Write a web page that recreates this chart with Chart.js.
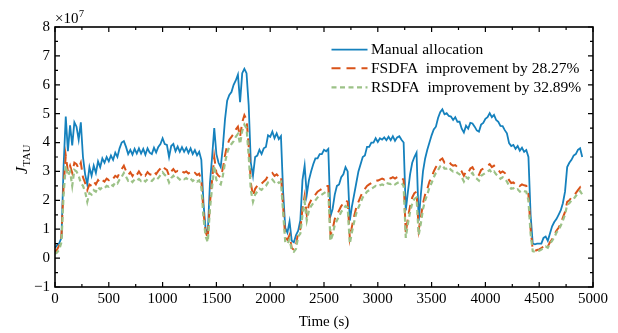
<!DOCTYPE html>
<html lang="en">
<head>
  <meta charset="UTF-8">
  <title>J_TAU over time</title>
  <script src="https://cdn.jsdelivr.net/npm/chart.js"></script>
  <style>
    body {
      margin: 0;
      padding: 0;
      background-color: #fff;
    }

    #graphContainer {
      position: relative;
      width: 618px;
      height: 333px;
    }
  </style>
</head>
<body>
  <div id="graphContainer">
    <canvas id="tauGraph"></canvas>
  </div>

  <script>
    // sampled every 20 s, 0 .. 4900 s, values in units of 1e7
    const STEP = 20;

    const manual = [
      0.35, 0.45, 0.52, 0.7, 3.2, 4.9, 3.7, 4.6, 3.9, 4.7,
      4.55, 4.1, 4.7, 3.5, 2.9, 2.55, 3.15, 2.85, 3.2, 2.95,
      3.35, 3.15, 3.45, 3.3, 3.5, 3.35, 3.55, 3.4, 3.65, 3.5,
      3.8, 4.0, 4.05, 3.85, 3.6, 3.75, 3.58, 3.78, 3.62, 3.8,
      3.62, 3.78, 3.58, 3.8, 3.65, 3.6, 3.82, 3.66, 3.85, 3.95,
      4.15, 3.95, 3.92, 3.5, 3.88, 3.95, 3.7, 3.86, 3.68, 3.84,
      3.68, 3.82, 3.64, 3.8, 3.6, 3.74, 3.56, 3.68, 3.4, 1.9,
      1.0, 0.88, 2.6, 3.5, 4.5, 3.6, 3.3, 3.15, 3.85, 4.8,
      5.45, 5.65, 5.75, 6.0, 6.15, 6.35, 5.4, 6.4, 6.55, 6.4,
      5.3, 3.3, 2.85, 3.5, 3.55, 3.75, 3.6, 3.8, 3.85, 4.25,
      4.2, 4.38, 4.15, 4.32, 4.12, 4.22, 2.3, 1.05, 0.88, 1.27,
      0.6, 0.55, 0.8, 0.95, 1.3, 2.7, 3.2, 2.2, 2.7, 3.0,
      3.25, 3.45, 3.45, 3.6, 3.6, 3.75, 3.7, 3.78, 1.45, 1.7,
      2.2, 2.5, 2.55, 2.8, 2.9, 3.15, 3.0, 1.3, 1.8, 2.2,
      2.6, 3.0, 3.25, 3.5, 3.55, 3.85, 3.85, 4.0, 4.0, 4.15,
      4.02, 4.15, 4.1, 4.18, 4.08, 4.2, 4.08, 4.22, 4.06, 4.18,
      4.22, 4.1, 4.0, 1.65, 2.3, 2.9, 3.3, 3.5, 3.65, 1.3,
      2.2, 3.0, 3.45, 3.75, 4.0, 4.25, 4.45, 4.55, 4.85, 5.05,
      5.15, 4.98, 5.02, 4.92, 4.9, 4.78, 4.88, 4.72, 4.72, 4.48,
      4.35, 4.58, 4.48, 4.68, 4.66, 4.55, 4.42, 4.38, 4.62, 4.68,
      4.82, 4.88, 5.02, 4.88, 4.96, 4.78, 4.72, 4.58, 4.57, 4.43,
      4.32, 3.98, 3.88, 3.92, 3.78, 3.88, 3.72, 3.82, 3.68, 3.74,
      3.5, 1.5, 0.5, 0.48, 0.5, 0.5, 0.5, 0.7, 0.75, 0.6,
      0.85, 1.1, 1.25, 1.35, 1.5, 1.65, 1.9, 2.3, 3.15, 3.3,
      3.4, 3.55, 3.6, 3.75, 3.8, 3.5
    ];

    const fsdfa = [
      0.2, 0.3, 0.45, 0.75, 2.5, 3.55, 3.0, 3.2, 2.95, 3.3,
      3.25, 3.1, 3.3, 2.8, 2.6, 2.35, 2.55, 2.5, 2.65, 2.55,
      2.7, 2.6, 2.7, 2.65, 2.75, 2.7, 2.8, 2.75, 2.85, 2.8,
      2.95, 3.08, 3.2, 3.02, 2.88, 2.97, 2.84, 2.97, 2.88, 3.0,
      2.88, 2.97, 2.86, 2.98, 2.9, 2.88, 3.0, 2.91, 3.02, 3.1,
      3.2, 3.1, 3.05, 2.85, 3.0, 3.08, 2.98, 3.02, 2.95, 3.0,
      2.96, 3.0, 2.93, 2.98, 2.9, 2.95, 2.88, 2.92, 2.7, 1.6,
      0.9, 0.7, 1.9, 2.7, 3.5, 2.95, 2.85, 2.8, 3.1, 3.55,
      3.9, 4.1, 4.2, 4.3, 4.45, 4.55, 4.2, 4.7, 4.95, 4.8,
      3.9, 2.6, 2.15, 2.4, 2.5, 2.6, 2.58, 2.65, 2.72, 2.85,
      2.88, 2.95, 2.85, 2.9, 2.82, 2.86, 1.8, 0.7, 0.63, 0.8,
      0.35, 0.29, 0.45, 0.9, 1.0, 1.7, 2.15, 1.5, 1.85, 2.0,
      2.1, 2.2, 2.3, 2.35, 2.4, 2.45, 2.5, 2.5, 0.8, 1.0,
      1.35, 1.5, 1.65, 1.8, 1.9, 2.0, 1.95, 0.69, 1.1, 1.45,
      1.75, 1.95, 2.13, 2.3, 2.4, 2.5, 2.55, 2.6, 2.65, 2.7,
      2.68, 2.72, 2.75, 2.72, 2.8, 2.78, 2.76, 2.8, 2.75, 2.8,
      2.83, 2.8, 2.7, 0.86, 1.4, 1.8, 2.1, 2.25, 2.3, 0.98,
      1.4, 1.9, 2.2, 2.4, 2.65, 2.8, 3.0, 3.15, 3.25, 3.4,
      3.45, 3.3, 3.3, 3.35, 3.25, 3.2, 3.22, 3.15, 3.1, 3.0,
      2.85, 3.0, 2.95, 3.1, 3.15, 3.0, 2.95, 2.88, 3.05, 3.1,
      3.15, 3.2, 3.25, 3.15, 3.2, 3.1, 3.05, 2.95, 3.0, 2.95,
      2.85, 2.7, 2.6, 2.62, 2.55, 2.58, 2.5, 2.55, 2.52, 2.5,
      2.2, 1.0, 0.28, 0.25, 0.28, 0.3, 0.35, 0.4, 0.45, 0.4,
      0.55, 0.65, 0.8, 0.95, 1.05, 1.2, 1.4, 1.6, 1.95, 2.0,
      2.1, 2.15, 2.25, 2.35, 2.45, 2.3
    ];

    const rsdfa = [
      0.15, 0.2, 0.3, 0.55, 2.2, 3.2, 2.85, 3.0, 2.5, 3.05,
      3.0, 2.85, 2.6, 2.5, 2.3, 1.95, 2.25, 2.2, 2.35, 2.3,
      2.45, 2.38, 2.45, 2.42, 2.5, 2.47, 2.55, 2.5, 2.62, 2.58,
      2.72, 2.82, 2.95, 2.82, 2.68, 2.72, 2.63, 2.72, 2.68, 2.74,
      2.67, 2.72, 2.65, 2.73, 2.7, 2.67, 2.75, 2.7, 2.77, 2.87,
      2.97, 2.88, 2.82, 2.62, 2.77, 2.85, 2.75, 2.79, 2.72, 2.77,
      2.73, 2.77, 2.7, 2.75, 2.67, 2.72, 2.65, 2.69, 2.45, 1.4,
      0.75, 0.55, 1.7, 2.45, 3.2, 2.7, 2.6, 2.55, 2.85, 3.3,
      3.65, 3.85, 3.95, 4.05, 4.2, 4.3, 3.95, 4.4, 4.62, 4.5,
      3.55, 2.35, 1.95, 2.2, 2.3, 2.4, 2.36, 2.45, 2.5, 2.62,
      2.66, 2.72, 2.63, 2.68, 2.6, 2.64, 1.6, 0.55, 0.5, 0.65,
      0.28, 0.22, 0.32, 0.75, 0.85, 1.5, 1.95, 1.3, 1.65, 1.8,
      1.9, 2.0, 2.1, 2.15, 2.2, 2.25, 2.3, 2.3, 0.6, 0.8,
      1.15, 1.3, 1.45, 1.6, 1.7, 1.8, 1.75, 0.5, 0.9, 1.25,
      1.55, 1.75, 1.92, 2.1, 2.2, 2.3, 2.35, 2.4, 2.45, 2.5,
      2.48, 2.52, 2.55, 2.52, 2.6, 2.58, 2.56, 2.6, 2.55, 2.6,
      2.63, 2.6, 2.5, 0.7, 1.2, 1.6, 1.9, 2.05, 2.1, 0.8,
      1.2, 1.7, 2.0, 2.2, 2.45, 2.6, 2.8, 2.95, 3.05, 3.18,
      3.22, 3.1, 3.1, 3.15, 3.05, 3.0, 3.02, 2.95, 2.9, 2.8,
      2.65, 2.8, 2.75, 2.9, 2.95, 2.8, 2.75, 2.68, 2.85, 2.9,
      2.95, 3.0, 3.05, 2.95, 3.0, 2.9, 2.85, 2.75, 2.8, 2.75,
      2.65, 2.5, 2.4, 2.42, 2.35, 2.38, 2.3, 2.35, 2.32, 2.3,
      2.0, 0.85, 0.24, 0.22, 0.24, 0.26, 0.3, 0.35, 0.4, 0.36,
      0.5, 0.6, 0.72, 0.88, 0.98, 1.12, 1.3, 1.5, 1.85, 1.9,
      2.0, 2.05, 2.15, 2.25, 2.32, 2.2
    ];

    const seriesNames = [
      'Manual allocation',
      'FSDFA  improvement by 28.27%',
      'RSDFA  improvement by 32.89%'
    ];
    const seriesColors = ['#1581bd', '#d95319', '#9cc287'];

    const xTicks = [0, 500, 1000, 1500, 2000, 2500, 3000, 3500, 4000, 4500, 5000];
    const yTicks = [-1, 0, 1, 2, 3, 4, 5, 6, 7, 8];

    const SERIF = '"Liberation Serif", "Times New Roman", serif';

    function toPoints(values) {
      return values.map((v, i) => ({ x: i * STEP, y: v }));
    }

    // box, inward ticks on all four sides, titles and legend
    const framePlugin = {
      id: 'frame',
      afterDraw(chart) {
        const { ctx, chartArea: a, scales } = chart;
        const xs = scales.x, ys = scales.y;
        ctx.save();
        ctx.strokeStyle = '#000';
        ctx.lineWidth = 1.6;
        ctx.strokeRect(a.left, a.top, a.right - a.left, a.bottom - a.top);

        ctx.lineWidth = 1.2;
        ctx.beginPath();
        for (let i = 0; i < xTicks.length; i++) {
          const v = xTicks[i];
          const px = xs.getPixelForValue(v);
          ctx.moveTo(px, a.bottom); ctx.lineTo(px, a.bottom - 5);
          ctx.moveTo(px, a.top); ctx.lineTo(px, a.top + 5);
          if (i < xTicks.length - 1) {
            const pm = xs.getPixelForValue(v + 250);
            ctx.moveTo(pm, a.bottom); ctx.lineTo(pm, a.bottom - 3);
            ctx.moveTo(pm, a.top); ctx.lineTo(pm, a.top + 3);
          }
        }
        for (let i = 0; i < yTicks.length; i++) {
          const v = yTicks[i];
          const py = ys.getPixelForValue(v);
          ctx.moveTo(a.left, py); ctx.lineTo(a.left + 5, py);
          ctx.moveTo(a.right, py); ctx.lineTo(a.right - 5, py);
          if (i < yTicks.length - 1) {
            const pm = ys.getPixelForValue(v + 0.5);
            ctx.moveTo(a.left, pm); ctx.lineTo(a.left + 3, pm);
            ctx.moveTo(a.right, pm); ctx.lineTo(a.right - 3, pm);
          }
        }
        ctx.stroke();

        ctx.fillStyle = '#000';
        // exponent
        ctx.textBaseline = 'alphabetic';
        ctx.textAlign = 'left';
        ctx.font = '15px ' + SERIF;
        ctx.fillText('\u00d710', a.left, 23);
        const w10 = ctx.measureText('\u00d710').width;
        ctx.font = '10px ' + SERIF;
        ctx.fillText('7', a.left + w10 + 0.5, 17);

        // x title
        ctx.font = '15px ' + SERIF;
        ctx.textAlign = 'center';
        ctx.textBaseline = 'middle';
        ctx.fillText('Time (s)', (a.left + a.right) / 2, 322);

        // y title J_TAU
        ctx.save();
        ctx.translate(27, 174);
        ctx.rotate(-Math.PI / 2);
        ctx.textAlign = 'left';
        ctx.textBaseline = 'alphabetic';
        ctx.font = 'italic 16px ' + SERIF;
        ctx.fillText('J', 0, 0);
        const wJ = ctx.measureText('J').width;
        ctx.font = '11px ' + SERIF;
        ctx.fillText('TAU', wJ + 0.5, 3);
        ctx.restore();

        // legend
        const rows = [49.7, 68.2, 87.3];
        chart.data.datasets.forEach((ds, i) => {
          const y = rows[i];
          ctx.strokeStyle = ds.borderColor;
          ctx.lineWidth = ds.borderWidth;
          ctx.setLineDash(ds.borderDash || []);
          ctx.beginPath();
          ctx.moveTo(331.5, y);
          ctx.lineTo(367.5, y);
          ctx.stroke();
          ctx.setLineDash([]);
          ctx.fillStyle = '#000';
          ctx.font = '15.5px ' + SERIF;
          ctx.textAlign = 'left';
          ctx.textBaseline = 'middle';
          ctx.fillText(ds.label, 371, y + 0.5);
        });
        ctx.restore();
      }
    };

    const ctx = document.getElementById('tauGraph').getContext('2d');
    const tauChart = new Chart(ctx, {
      type: 'line',
      data: {
        datasets: [
          {
            label: seriesNames[0],
            data: toPoints(manual),
            borderColor: seriesColors[0],
            borderWidth: 1.8,
            pointRadius: 0,
            tension: 0,
            order: 2
          },
          {
            label: seriesNames[1],
            data: toPoints(fsdfa),
            borderColor: seriesColors[1],
            borderWidth: 2,
            borderDash: [9, 6],
            pointRadius: 0,
            tension: 0,
            order: 1
          },
          {
            label: seriesNames[2],
            data: toPoints(rsdfa),
            borderColor: seriesColors[2],
            borderWidth: 2.2,
            borderDash: [5, 3.5],
            pointRadius: 0,
            tension: 0,
            order: 0
          }
        ]
      },
      options: {
        responsive: true,
        maintainAspectRatio: false,
        animation: false,
        layout: { padding: { top: 27, right: 25, left: 0, bottom: 0 } },
        plugins: {
          legend: { display: false },
          tooltip: { enabled: false }
        },
        scales: {
          x: {
            type: 'linear',
            min: 0,
            max: 5000,
            grid: { display: false, drawTicks: false },
            border: { display: false },
            afterBuildTicks: (scale) => { scale.ticks = xTicks.map(v => ({ value: v })); },
            afterFit: (scale) => { scale.height = 46; },
            ticks: {
              color: '#000',
              padding: 3,
              maxRotation: 0,
              font: { family: SERIF, size: 15 },
              callback: (v) => String(v)
            }
          },
          y: {
            type: 'linear',
            min: -1,
            max: 8,
            grid: { display: false, drawTicks: false },
            border: { display: false },
            afterBuildTicks: (scale) => { scale.ticks = yTicks.map(v => ({ value: v })); },
            afterFit: (scale) => { scale.width = 55; },
            ticks: {
              color: '#000',
              padding: 5,
              font: { family: SERIF, size: 15 },
              callback: (v) => (v < 0 ? '\u2212' + Math.abs(v) : String(v))
            }
          }
        }
      },
      plugins: [framePlugin]
    });
  </script>
</body>
</html>
